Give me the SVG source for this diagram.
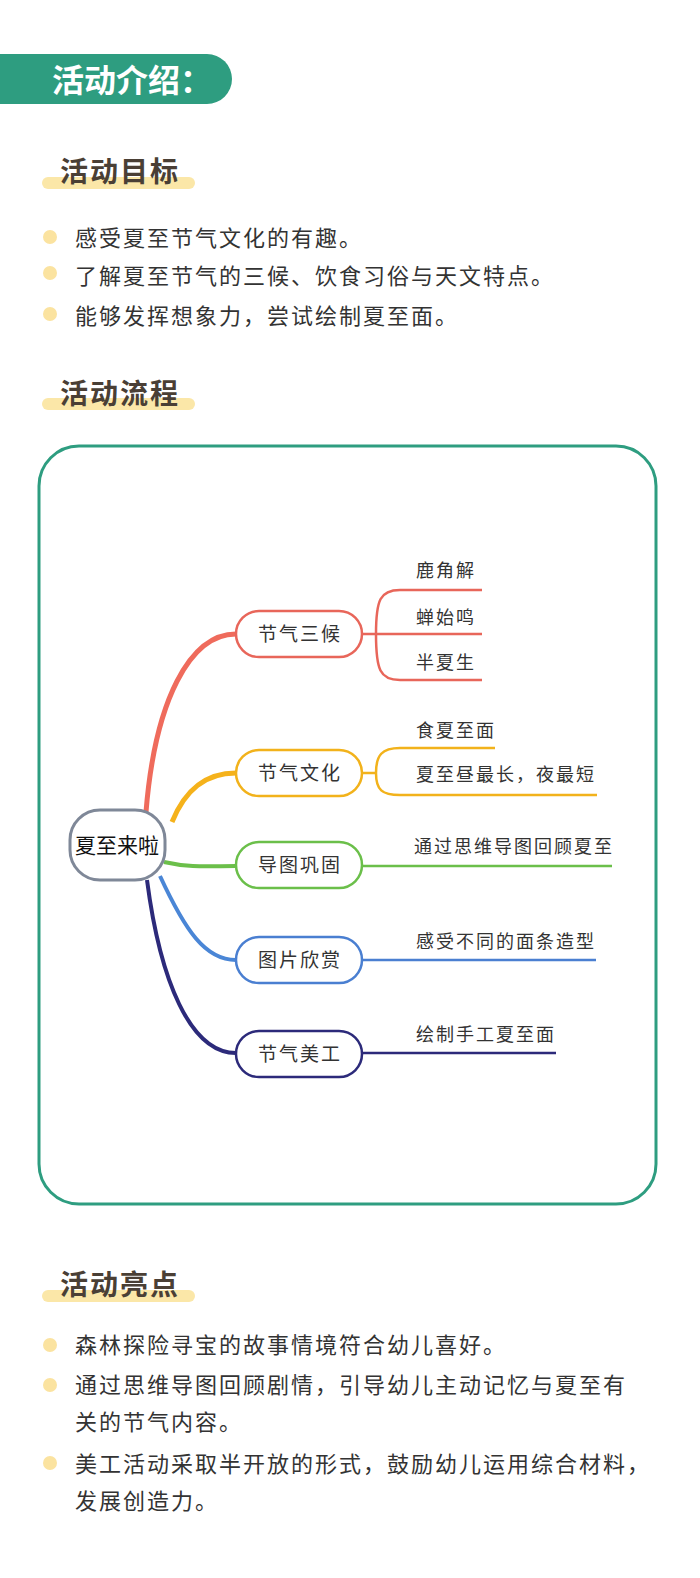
<svg xmlns="http://www.w3.org/2000/svg" width="700" height="1578" viewBox="0 0 700 1578">
<style>
text{font-family:"Noto Sans CJK SC",sans-serif}
.h{font-size:28px;font-weight:bold;fill:#4a3f35;letter-spacing:2px}
.bar{fill:#fbe7a8}
.dot{fill:#fbe3a0}
.t{font-size:22px;fill:#333;letter-spacing:2px}
.l{font-size:18px;fill:#333;letter-spacing:2px}
.n{font-size:19px;fill:#333;text-anchor:middle;letter-spacing:2px}
.c{fill:none;stroke-width:2.5}
</style>
<rect width="700" height="1578" fill="#fff"/>
<g id="header">
<path d="M0 54 H207 A25 25 0 0 1 207 104 H0 Z" fill="#2e9d80"/>
<text x="52" y="92" font-size="32" font-weight="bold" fill="#fff">活动介绍：</text>
</g>
<g id="goals">
<rect class="bar" x="42" y="177" width="153" height="12" rx="6"/>
<text class="h" x="60" y="182">活动目标</text>
<circle class="dot" cx="50" cy="237" r="7"/><text class="t" x="75" y="246">感受夏至节气文化的有趣。</text>
<circle class="dot" cx="50" cy="273" r="7"/><text class="t" x="75" y="284">了解夏至节气的三候、饮食习俗与天文特点。</text>
<circle class="dot" cx="50" cy="314" r="7"/><text class="t" x="75" y="324">能够发挥想象力，尝试绘制夏至面。</text>
</g>
<g id="flow-title">
<rect class="bar" x="42" y="398" width="153" height="12" rx="6"/>
<text class="h" x="60" y="404">活动流程</text>
</g>
<rect x="39" y="446" width="617" height="758" rx="40" fill="none" stroke="#2e9d80" stroke-width="3"/>
<g id="connectors">
<path d="M146 812 C155 700 190 634 236 634" fill="none" stroke="#ef6b5c" stroke-width="5"/>
<path d="M172 822 C185 790 205 773 236 773" fill="none" stroke="#f5b21b" stroke-width="5"/>
<path d="M164 862 C190 868 210 866 236 866" fill="none" stroke="#6bbf4a" stroke-width="4"/>
<path d="M160 876 C185 930 205 960 236 960" fill="none" stroke="#4a86d6" stroke-width="4"/>
<path d="M147 880 C160 980 190 1053 236 1053" fill="none" stroke="#2c2a7a" stroke-width="4"/>
<path class="c" stroke="#e8665a" d="M362 634 H376 M376 634 C376 600 380 590 400 590 H482 M376 634 H482 M376 634 C376 670 380 680 400 680 H482"/>
<path class="c" stroke="#f2b21b" d="M362 773 H376 C376 755 382 748 400 748 H495 M376 773 C376 790 382 795 400 795 H597"/>
<path class="c" stroke="#6bbf4a" d="M362 866 H612"/>
<path class="c" stroke="#4a7fd1" d="M362 960 H596"/>
<path class="c" stroke="#2c2a7a" d="M362 1053 H556"/>
</g>
<g id="center"><rect x="70" y="810" width="95" height="70" rx="30" fill="#fff" stroke="#7f8898" stroke-width="3"/><text x="117" y="853" font-size="21" text-anchor="middle" fill="#111">夏至来啦</text></g>
<g id="n1"><rect x="236" y="611" width="126" height="46" rx="23" fill="#fff" stroke="#e8665a" stroke-width="2.5"/><text class="n" x="300" y="641">节气三候</text></g>
<g id="n2"><rect x="236" y="750" width="126" height="46" rx="23" fill="#fff" stroke="#f2b21b" stroke-width="2.5"/><text class="n" x="300" y="780">节气文化</text></g>
<g id="n3"><rect x="236" y="842" width="126" height="46" rx="23" fill="#fff" stroke="#6bbf4a" stroke-width="2.5"/><text class="n" x="300" y="872">导图巩固</text></g>
<g id="n4"><rect x="236" y="937" width="126" height="46" rx="23" fill="#fff" stroke="#4a7fd1" stroke-width="2.5"/><text class="n" x="300" y="967">图片欣赏</text></g>
<g id="n5"><rect x="236" y="1031" width="126" height="46" rx="23" fill="#fff" stroke="#2c2a7a" stroke-width="2.5"/><text class="n" x="300" y="1061">节气美工</text></g>
<g id="leaves">
<text class="l" x="416" y="577">鹿角解</text>
<text class="l" x="416" y="624">蝉始鸣</text>
<text class="l" x="416" y="669">半夏生</text>
<text class="l" x="416" y="737">食夏至面</text>
<text class="l" x="416" y="781">夏至昼最长，夜最短</text>
<text class="l" x="414" y="853">通过思维导图回顾夏至</text>
<text class="l" x="416" y="948">感受不同的面条造型</text>
<text class="l" x="416" y="1041">绘制手工夏至面</text>
</g>
<g id="highlights">
<rect class="bar" x="42" y="1290" width="153" height="12" rx="6"/>
<text class="h" x="60" y="1295">活动亮点</text>
<circle class="dot" cx="50" cy="1345" r="7"/><text class="t" x="75" y="1353">森林探险寻宝的故事情境符合幼儿喜好。</text>
<circle class="dot" cx="50" cy="1385" r="7"/><text class="t" x="75" y="1393">通过思维导图回顾剧情，引导幼儿主动记忆与夏至有</text>
<text class="t" x="75" y="1430">关的节气内容。</text>
<circle class="dot" cx="50" cy="1463" r="7"/><text class="t" x="75" y="1472">美工活动采取半开放的形式，鼓励幼儿运用综合材料，</text>
<text class="t" x="75" y="1509">发展创造力。</text>
</g>
</svg>
